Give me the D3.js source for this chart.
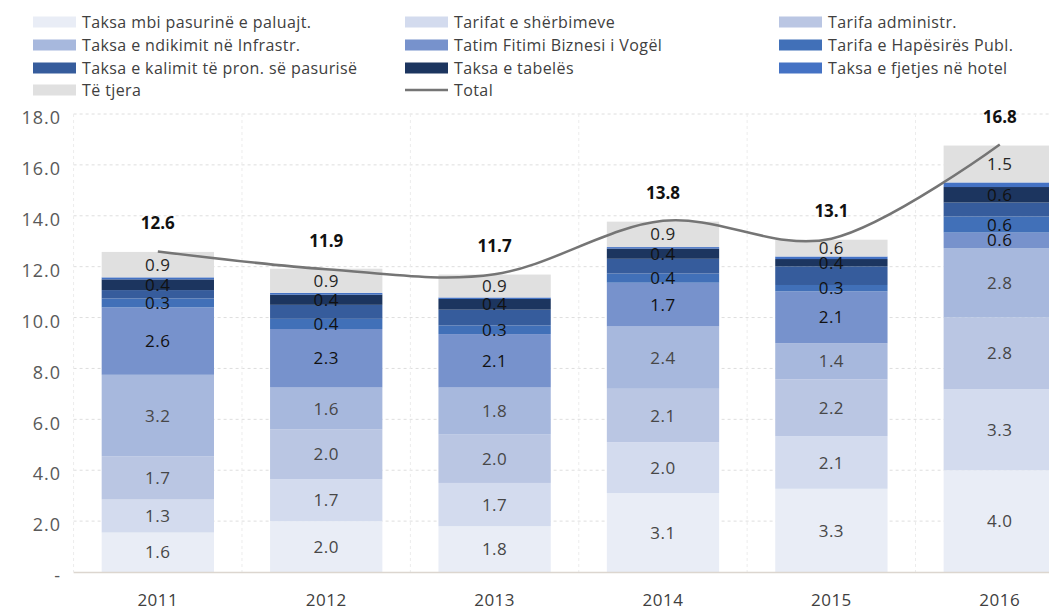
<!DOCTYPE html>
<html>
<head>
<meta charset="utf-8">
<script src="https://cdn.jsdelivr.net/npm/d3@7"></script>
<style>
  body { margin: 0; background: #fff; }
  svg { display: block; }
</style>
</head>
<body>
<div id="chart"></div>
<script>
// Categories
const years = ["2011", "2012", "2013", "2014", "2015", "2016"];

// Series names (stack order, bottom to top)
const seriesNames = [
    "Taksa mbi pasurinë e paluajt.",
    "Tarifat e shërbimeve",
    "Tarifa administr.",
    "Taksa e ndikimit në Infrastr.",
    "Tatim Fitimi Biznesi i Vogël",
    "Tarifa e Hapësirës Publ.",
    "Taksa e kalimit të pron. së pasurisë",
    "Taksa e tabelës",
    "Taksa e fjetjes në hotel",
    "Të tjera"
];
const colors = ["#e9edf6", "#d3dbee", "#bac6e3", "#a7b8dd", "#7792cc",
    "#4170b8", "#365c9c", "#1c355f", "#4472c4", "#e0e0e0"];

// Segment heights
const paluajt    = [1.55, 2.00, 1.80, 3.10, 3.27, 4.00];
const sherbimeve = [1.30, 1.65, 1.70, 2.00, 2.07, 3.18];
const administr  = [1.70, 1.95, 1.90, 2.10, 2.23, 2.83];
const infrastr   = [3.20, 1.65, 1.85, 2.45, 1.42, 2.72];
const tatim      = [2.65, 2.30, 2.10, 1.72, 2.04, 0.61];
const hapesires  = [0.35, 0.40, 0.34, 0.36, 0.25, 0.63];
const kalimit    = [0.33, 0.55, 0.62, 0.58, 0.73, 0.55];
const tabeles    = [0.42, 0.40, 0.42, 0.40, 0.29, 0.61];
const fjetjes    = [0.08, 0.07, 0.06, 0.06, 0.10, 0.18];
const tjera      = [1.00, 0.95, 0.90, 1.00, 0.66, 1.45];

// Data labels as printed on the chart (null = no labels for that series)
const paluajtLbl    = ["1.6", "2.0", "1.8", "3.1", "3.3", "4.0"];
const sherbimeveLbl = ["1.3", "1.7", "1.7", "2.0", "2.1", "3.3"];
const administrLbl  = ["1.7", "2.0", "2.0", "2.1", "2.2", "2.8"];
const infrastrLbl   = ["3.2", "1.6", "1.8", "2.4", "1.4", "2.8"];
const tatimLbl      = ["2.6", "2.3", "2.1", "1.7", "2.1", "0.6"];
const hapesiresLbl  = ["0.3", "0.4", "0.3", "0.4", "0.3", "0.6"];
const tabelesLbl    = ["0.4", "0.4", "0.4", "0.4", "0.4", "0.6"];
const tjeraLbl      = ["0.9", "0.9", "0.9", "0.9", "0.6", "1.5"];

const totals = [12.6, 11.9, 11.7, 13.8, 13.1, 16.8];

const yTicks = [0, 2, 4, 6, 8, 10, 12, 14, 16, 18];

const seriesValues = [paluajt, sherbimeve, administr, infrastr, tatim,
    hapesires, kalimit, tabeles, fjetjes, tjera];
const seriesLabels = [paluajtLbl, sherbimeveLbl, administrLbl, infrastrLbl, tatimLbl,
    hapesiresLbl, null, tabelesLbl, null, tjeraLbl];

const W = 1049, H = 612;
const font = "'Open Sans', 'Noto Sans', sans-serif";

const svg = d3.select("#chart").append("svg")
    .attr("width", W)
    .attr("height", H)
    .style("font-family", font);

// Scales
const x = d3.scaleBand()
    .domain(years)
    .range([73.6, 1084])
    .paddingInner(0.333)
    .paddingOuter(0.1667);

const y = d3.scaleLinear()
    .domain([0, 18])
    .range([572, 114]);

// Stack the table
const table = years.map((yr, i) => {
    const row = { year: yr };
    seriesNames.forEach((n, k) => row[n] = seriesValues[k][i]);
    return row;
});
const stacked = d3.stack().keys(seriesNames)(table);

// Gridlines
const step = x.step();
const x0 = x.range()[0];
svg.append("g")
    .selectAll("line")
    .data(yTicks.filter(d => d > 0))
    .join("line")
    .attr("x1", x0)
    .attr("x2", W)
    .attr("y1", d => y(d))
    .attr("y2", d => y(d))
    .attr("stroke", "#dedede")
    .attr("stroke-dasharray", "3,3");

svg.append("g")
    .selectAll("line")
    .data(d3.range(years.length + 1))
    .join("line")
    .attr("x1", d => x0 + d * step)
    .attr("x2", d => x0 + d * step)
    .attr("y1", y(18))
    .attr("y2", y(0))
    .attr("stroke", "#ececec")
    .attr("stroke-dasharray", "3,3");

// Y axis
const yAxis = d3.axisLeft(y)
    .tickValues(yTicks)
    .tickSize(0)
    .tickPadding(0)
    .tickFormat(d => d === 0 ? "-" : d3.format(".1f")(d));

svg.append("g")
    .attr("transform", "translate(61, 4)")
    .call(yAxis)
    .call(g => g.select(".domain").remove())
    .selectAll("text")
    .attr("fill", "#595959")
    .style("font-size", "18px")
    .style("letter-spacing", "1px")
    .style("font-family", font);

// Bars
const layers = svg.append("g")
    .selectAll("g")
    .data(stacked)
    .join("g")
    .attr("fill", (d, i) => colors[i]);

layers.selectAll("rect")
    .data(d => d)
    .join("rect")
    .attr("x", d => x(d.data.year))
    .attr("width", x.bandwidth())
    .attr("y", d => y(d[1]))
    .attr("height", d => y(d[0]) - y(d[1]));

// X axis
const xAxis = d3.axisBottom(x).tickSize(0).tickPadding(22);
svg.append("g")
    .attr("transform", `translate(0, ${y(0)})`)
    .call(xAxis)
    .call(g => g.select(".domain").attr("stroke", "#dcd6cf").attr("stroke-width", 1.5)
        .attr("d", `M${x0},0.5H${W}`))
    .selectAll("text")
    .attr("fill", "#404040")
    .style("font-size", "17px")
    .style("letter-spacing", "0.5px")
    .style("font-family", font);

// Segment labels
stacked.forEach((layer, k) => {
    const lbl = seriesLabels[k];
    if (!lbl) return;
    svg.append("g")
        .selectAll("text")
        .data(layer)
        .join("text")
        .attr("x", d => x(d.data.year) + x.bandwidth() / 2)
        .attr("y", d => (y(d[0]) + y(d[1])) / 2)
        .attr("dy", "0.36em")
        .attr("text-anchor", "middle")
        .attr("fill", k < 4 ? "#474747" : (k === 9 ? "#262626" : "#111"))
        .style("font-size", "17px")
        .style("letter-spacing", "0.5px")
        .text((d, i) => lbl[i]);
});

// Total line
const line = d3.line()
    .x((d, i) => x(years[i]) + x.bandwidth() / 2)
    .y(d => y(d))
    .curve(d3.curveCardinal);

svg.append("path")
    .datum(totals)
    .attr("fill", "none")
    .attr("stroke", "#757575")
    .attr("stroke-width", 2.5)
    .attr("d", line);

svg.append("g")
    .selectAll("text")
    .data(totals)
    .join("text")
    .attr("x", (d, i) => x(years[i]) + x.bandwidth() / 2)
    .attr("y", d => y(d) - 22)
    .attr("text-anchor", "middle")
    .attr("fill", "#111")
    .style("font-size", "17px")
    .style("font-weight", "bold")
    .text(d => d3.format(".1f")(d));

// Legend
const legendItems = seriesNames.map((n, i) => ({ name: n, color: colors[i], type: "rect" }));
legendItems.push({ name: "Total", color: "#757575", type: "line" });
const colX = [33, 405, 779];
const rowY = [22, 45, 68, 90];

const legend = svg.append("g")
    .selectAll("g")
    .data(legendItems)
    .join("g")
    .attr("transform", (d, i) => `translate(${colX[i % 3]}, ${rowY[Math.floor(i / 3)]})`);

legend.filter(d => d.type === "rect")
    .append("rect")
    .attr("x", 0)
    .attr("y", -5.5)
    .attr("width", 43)
    .attr("height", 11)
    .attr("fill", d => d.color);

legend.filter(d => d.type === "line")
    .append("line")
    .attr("x1", 0)
    .attr("x2", 43)
    .attr("stroke", d => d.color)
    .attr("stroke-width", 2.5);

legend.append("text")
    .attr("x", 49)
    .attr("dy", "0.35em")
    .attr("fill", "#404040")
    .style("font-size", "16px")
    .style("letter-spacing", "0.4px")
    .text(d => d.name);
</script>
</body>
</html>
